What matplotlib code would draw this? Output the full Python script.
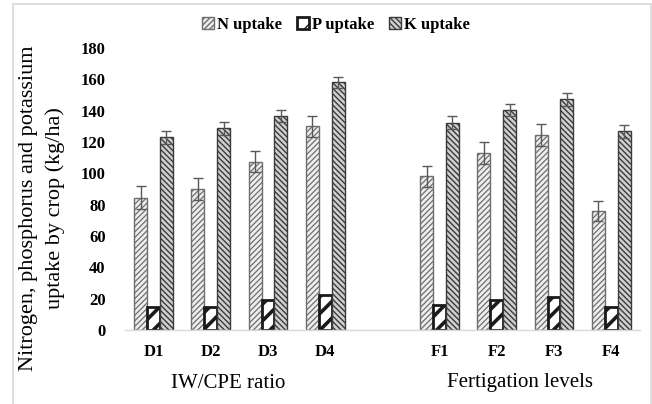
import numpy as np
import matplotlib
matplotlib.use("Agg")
import matplotlib.pyplot as plt
from matplotlib.patches import Rectangle

categories = ["D1", "D2", "D3", "D4", "F1", "F2", "F3", "F4"]
group_labels = ["IW/CPE ratio", "Fertigation levels"]
n_uptake = [84.5, 90, 107.5, 130, 98, 113, 124.5, 76]
p_uptake = [14.5, 15, 19.3, 22.3, 16, 19, 21, 14.7]
k_uptake = [123, 128.7, 136.5, 158, 132.3, 140.3, 147.2, 126.8]
n_err = [7.2, 7, 6.6, 6.8, 7, 7, 7, 6.6]
k_err = [4.3, 4, 4, 3.6, 4, 4, 4.1, 4]
yticks = [0, 20, 40, 60, 80, 100, 120, 140, 160, 180]

serif = ["Liberation Serif", "DejaVu Serif"]
plt.rcParams["font.family"] = serif

fig = plt.figure(figsize=(6.52, 4.04), dpi=100)
ax = fig.add_axes([125/652, 1-330/404, (639.8-125)/652, (330-48)/404])

# positions: 4 D, gap, 4 F
pos = np.array([0, 1, 2, 3, 5, 6, 7, 8], dtype=float)
w = 0.225

with plt.rc_context({"hatch.linewidth": 0.9}):
    bn = ax.bar(pos - w, n_uptake, w, color="#eeeeee", edgecolor="#6e6e6e",
                hatch="//////", linewidth=1.0, label="N uptake", zorder=2)
with plt.rc_context({"hatch.linewidth": 2.6}):
    bp = ax.bar(pos, p_uptake, w, color="white", edgecolor="#1a1a1a",
                hatch="//", linewidth=2.0, label="P uptake", zorder=2)
with plt.rc_context({"hatch.linewidth": 1.0}):
    bk = ax.bar(pos + w, k_uptake, w, color="#d0d0d0", edgecolor="#3a3a3a",
                hatch="\\\\\\\\\\\\", linewidth=1.0, label="K uptake", zorder=2)

ax.errorbar(pos - w, n_uptake, yerr=n_err, fmt="none", ecolor="#595959",
            elinewidth=1, capsize=3.5, capthick=1, zorder=3)
ax.errorbar(pos + w, k_uptake, yerr=k_err, fmt="none", ecolor="#595959",
            elinewidth=1, capsize=3.5, capthick=1, zorder=3)

ax.set_xlim(-0.5, 8.5)
ax.set_ylim(0, 180)
ax.set_yticks(yticks)
ax.set_yticklabels([str(v) for v in yticks], fontsize=12, fontweight="bold")
ax.set_xticks(pos)
ax.set_xticklabels(categories, fontsize=12, fontweight="bold")
ax.tick_params(axis="y", length=0, pad=14)
ax.tick_params(axis="x", length=0, pad=10)
for s in ["left", "right", "top"]:
    ax.spines[s].set_visible(False)
ax.spines["bottom"].set_color("#d9d9d9")
ax.spines["bottom"].set_linewidth(1)

fig.text(228/652, 1-383/404, group_labels[0], fontsize=15, ha="center", va="center")
fig.text(520/652, 1-383/404, group_labels[1], fontsize=15, ha="center", va="center")

fig.text(42/652, 1-208/404,
         "Nitrogen, phosphorus and potassium\nuptake by crop (kg/ha)",
         rotation=90, fontsize=16, ha="center", va="center",
         multialignment="center", linespacing=1.45)

leg = fig.legend(handles=[bn, bp, bk], loc="center", bbox_to_anchor=(336/652, 1-25/404),
                 ncol=3, frameon=False, prop={"size": 12, "weight": "bold", "family": serif},
                 handlelength=0.7, handleheight=0.7, handletextpad=0.2, columnspacing=0.9)

frame = Rectangle((12.5/652, -0.05), (651-12.5)/652, 0.05 + 1-4/404,
                  transform=fig.transFigure, fill=False, edgecolor="#d9d9d9",
                  linewidth=1.2, zorder=10)
fig.patches.append(frame)

fig.savefig("out.png", dpi=100)
